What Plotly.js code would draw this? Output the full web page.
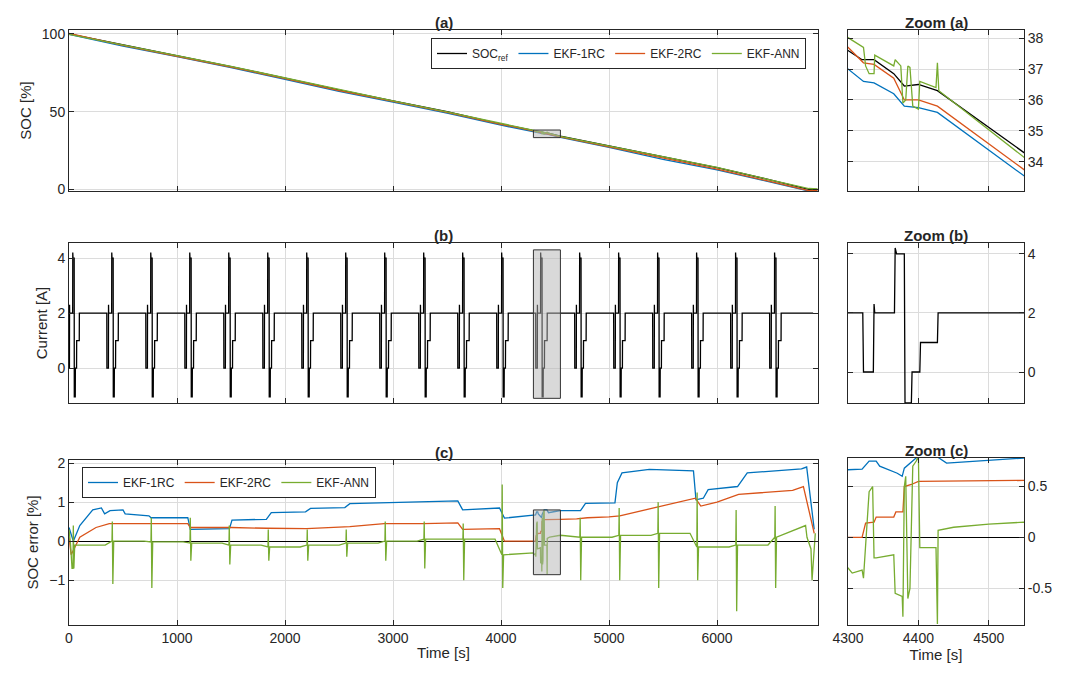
<!DOCTYPE html>
<html><head><meta charset="utf-8">
<script src="https://cdn.plot.ly/plotly-3.0.1.min.js"></script>
<style>body{margin:0}#g{width:1067px;height:677px}</style>
</head><body><div id="g"></div>
<script>
// ---- data ----
const socT    = [0,500,1000,1500,2000,2500,3000,3500,4000,4300,4550,5000,5500,6000,6500,6850,6930];
const socRef  = [100,93,86,79,71.5,64,57,50,42,37.6,34.3,28,21,14,6,0,0];
const soc1RC  = [99.7,92.2,85.4,78.4,70.8,63.1,56.1,49.1,41.3,37.0,33.55,27.1,19.4,12.6,4.6,-1,-1];
const soc2RC  = [100.3,92.6,85.6,78.7,71.2,63.6,56.6,49.6,41.9,37.7,33.75,27.4,20.2,13.0,5.0,-0.8,-0.8];
const socANN  = [99.7,93,86,79.1,71.7,64,57,49.9,42.3,38.0,34.15,27.9,20.9,14.2,6.0,0.6,0.3];

const zT_ref  = [4300,4320,4337,4365,4380,4400,4427,4550];
const zV_ref  = [37.6,37.3,37.3,36.85,36.45,36.5,36.3,34.3];
const zT_1rc  = [4300,4322,4337,4365,4380,4400,4427,4550];
const zV_1rc  = [37.0,36.6,36.55,36.2,35.8,35.75,35.6,33.55];
const zT_2rc  = [4300,4322,4337,4365,4380,4400,4427,4550];
const zV_2rc  = [37.7,37.2,37.15,36.7,36.0,36.0,35.8,33.75];
const zT_ann  = [4300,4322,4325,4330,4337,4338,4365,4367,4375,4378,4382,4385,4388,4392,4400,4402,4425,4427,4429,4550];
const zV_ann  = [38.0,37.7,37.1,36.85,36.85,37.45,37.1,37.3,37.1,35.9,36.0,37.1,37.05,35.8,35.7,36.6,36.4,37.2,36.3,34.15];

const cycleT  = [35,396,757,1118,1479,1840,2201,2562,2923,3284,3645,4006,4367,4728,5089,5450,5811,6172,6533];
const curOff  = [-46,-45,-31,-30,-29,-1,0,2,13,14,23,24,35,36,60,61];
const curVal  = [2,0,0,2.3,2,2,4.2,4,4,-1.05,-1.05,0,0,1,1,2];

const e1T = [0,40,100,220,300,330,380,500,520,740,760,1100,1123,1486,1509,1827,1873,2190,2236,2554,2600,2873,2918,3236,3282,3600,3645,3986,4032,4300,4550,4736,4782,5055,5077,5120,5373,5782,5805,5873,5918,6190,6280,6782,6830,6900];
const e1V = [0.35,0.0,0.4,0.8,0.85,0.7,0.78,0.8,0.7,0.65,0.6,0.6,0.3,0.32,0.54,0.56,0.73,0.75,0.84,0.86,0.96,0.98,0.97,1.0,1.0,1.03,0.8,0.85,0.59,0.65,0.78,0.78,0.97,0.98,1.5,1.75,1.84,1.8,1.06,1.1,1.32,1.4,1.75,1.85,1.9,0.3];
const e2T = [0,20,100,250,373,1100,1123,1500,1830,2200,2600,2918,3282,3600,3645,3986,4032,4300,4550,4700,4800,5000,5100,5400,5800,5850,6000,6200,6700,6800,6900];
const e2V = [0.1,-0.35,0.1,0.35,0.45,0.45,0.35,0.35,0.33,0.32,0.37,0.45,0.45,0.47,0.3,0.32,0.0,0.0,0.56,0.57,0.6,0.62,0.65,0.85,1.1,0.9,1.0,1.2,1.3,1.4,0.2];
const zT_e1 = [4300,4320,4330,4340,4345,4370,4377,4380,4400,4425,4440,4500,4550];
const zV_e1 = [0.67,0.67,0.75,0.75,0.7,0.63,0.6,0.68,0.8,0.8,0.73,0.76,0.78];
const zT_e2 = [4300,4320,4325,4337,4340,4365,4368,4378,4380,4390,4400,4550];
const zV_e2 = [0,0,0.14,0.15,0.2,0.2,0.25,0.25,0.5,0.52,0.55,0.56];
const zT_e3 = [4300,4320,4322,4330,4335,4337,4340,4365,4367,4377,4378,4380,4382,4385,4388,4392,4397,4400,4402,4425,4427,4428,4450,4500,4550];
const zV_e3 = [-0.3,-0.32,-0.4,0.45,0.5,-0.2,-0.2,-0.17,-0.55,-0.58,-0.78,0.5,0.6,-0.6,-0.5,0.7,0.75,0.8,-0.1,-0.1,-0.85,0.07,0.1,0.13,0.15];
const annStartT = [0,15,28];
const annStartV = [0.3,-0.1,-0.7];
const annBase = [-0.1,0.0,-0.02,-0.05,-0.1,-0.15,-0.1,-0.05,0.0,0.05,0.05,-0.35,0.1,0.1,0.15,0.2,-0.15,-0.1,0.1];
const annUp   = [0.4,0.5,0.6,0.6,0.4,0.3,0.3,0.3,0.5,0.5,0.45,1.45,0.8,0.6,0.85,1.0,1.25,0.8,0.9];
const annDown = [-0.7,-1.1,-1.2,-0.5,-0.6,-0.5,-0.5,-0.4,-0.5,-0.7,-1.0,-1.2,-0.85,-1.0,-1.0,-1.2,-1.0,-1.8,-1.2];
const annEndT = [6820,6870,6880,6910];
const annEndV = [0.4,-0.2,-1.0,0.2];

// ---- build ----
function sortPairs(t,v){const idx=t.map((_,i)=>i).sort((a,b)=>t[a]-t[b]);return [idx.map(i=>t[i]),idx.map(i=>v[i])];}
function merge(T,V,zT,zV){const t=[],v=[];T.forEach((x,i)=>{if(x<4300||x>4550){t.push(x);v.push(V[i]);}});
  zT.forEach((x,i)=>{t.push(x);v.push(zV[i]);});return sortPairs(t,v);}
const cT=[0],cV=[2];
cycleT.forEach(t0=>curOff.forEach((o,j)=>{if(t0+o>=0){cT.push(t0+o);cV.push(curVal[j]);}}));
cT.push(6890);cV.push(2);
let gT=annStartT.slice(),gV=annStartV.slice();
cycleT.forEach((t0,i)=>{if(t0===4367){zT_e3.forEach((x,j)=>{gT.push(x);gV.push(zV_e3[j]);});return;}
  gT.push(t0+2,t0+5,t0+10,t0+18,t0+300);gV.push(i===0?-0.7:annBase[i],annUp[i],annDown[i],annBase[i],annBase[i]);});
annEndT.forEach((x,j)=>{gT.push(x);gV.push(annEndV[j]);});
[gT,gV]=sortPairs(gT,gV);

const BL='#0072BD',RD='#D95319',GR='#77AC30';
const [a0t,a0v]=merge(socT,socRef,zT_ref,zV_ref),[a1t,a1v]=merge(socT,soc1RC,zT_1rc,zV_1rc),
      [a2t,a2v]=merge(socT,soc2RC,zT_2rc,zV_2rc),[a3t,a3v]=merge(socT,socANN,zT_ann,zV_ann);
const [c1t,c1v]=merge(e1T,e1V,zT_e1,zV_e1),[c2t,c2v]=merge(e2T,e2V,zT_e2,zV_e2);
const L=(c)=>({color:c,width:1.3});
const tr=[];
function add(x,y,c,xa,ya,name,leg){tr.push({x,y,mode:'lines',line:L(c),xaxis:xa,yaxis:ya,name:name||'',showlegend:!!leg,legend:leg||'legend',hoverinfo:'skip'});}
add(a0t,a0v,'#000','x','y','SOC<sub>ref</sub>','legend');add(a1t,a1v,BL,'x','y','EKF-1RC','legend');
add(a2t,a2v,RD,'x','y','EKF-2RC','legend');add(a3t,a3v,GR,'x','y','EKF-ANN','legend');
add(a0t,a0v,'#000','x2','y2');add(a1t,a1v,BL,'x2','y2');add(a2t,a2v,RD,'x2','y2');add(a3t,a3v,GR,'x2','y2');
add(cT,cV,'#000','x3','y3');add(cT,cV,'#000','x4','y4');
add(c1t,c1v,BL,'x5','y5','EKF-1RC','legend2');add(c2t,c2v,RD,'x5','y5','EKF-2RC','legend2');add(gT,gV,GR,'x5','y5','EKF-ANN','legend2');
add(c1t,c1v,BL,'x6','y6');add(c2t,c2v,RD,'x6','y6');add(gT,gV,GR,'x6','y6');

const H=677,W=1067;
const dm=[69/W,818/W],dz=[848/W,1024/W];
const ra=[1-191/H,1-30/H],rb=[1-403/H,1-243/H],rc=[1-625/H,1-460/H],rcz=[1-625/H,1-458/H];
const ax=(o)=>Object.assign({showline:true,mirror:'ticks',linecolor:'#262626',linewidth:1,ticks:'inside',ticklen:5,tickcolor:'#262626',
  gridcolor:'#dcdcdc',zeroline:false,tickfont:{size:14,color:'#262626'}},o);
const mx=(a,lab,anch)=>ax({domain:dm,range:[0,6935],tickvals:[0,1000,2000,3000,4000,5000,6000],showticklabels:lab,anchor:anch,
  title:lab?{text:'Time [s]',font:{size:15},standoff:2}:undefined});
const zx=(a,lab,anch)=>ax({domain:dz,range:[4300,4550],tickvals:[4300,4400,4500],showticklabels:lab,anchor:anch,
  title:lab?{text:'Time [s]',font:{size:15},standoff:2}:undefined});
const layout={width:W,height:H,margin:{l:0,r:0,t:0,b:0},paper_bgcolor:'#fff',plot_bgcolor:'#fff',
  font:{family:'Liberation Sans, Arial, sans-serif',color:'#262626'},
  xaxis:mx(0,false,'y'),yaxis:ax({domain:ra,range:[-1,102.5],tickvals:[0,50,100],anchor:'x',title:{text:'SOC [%]',font:{size:15},standoff:6}}),
  xaxis2:zx(0,false,'y2'),yaxis2:ax({domain:ra,range:[33.06,38.26],tickvals:[34,35,36,37,38],side:'right',anchor:'x2'}),
  xaxis3:mx(0,false,'y3'),yaxis3:ax({domain:rb,range:[-1.27,4.55],tickvals:[0,2,4],anchor:'x3',title:{text:'Current [A]',font:{size:15},standoff:6}}),
  xaxis4:zx(0,false,'y4'),yaxis4:ax({domain:rb,range:[-1.05,4.37],tickvals:[0,2,4],side:'right',anchor:'x4'}),
  xaxis5:mx(0,true,'y5'),yaxis5:ax({domain:rc,range:[-2.15,2.08],tickvals:[-1,0,1,2],anchor:'x5',zeroline:true,zerolinecolor:'#000',zerolinewidth:1.2,title:{text:'SOC error [%]',font:{size:15},standoff:6}}),
  xaxis6:zx(0,true,'y6'),yaxis6:ax({domain:rcz,range:[-0.86,0.78],tickvals:[-0.5,0,0.5],ticktext:['-0.5','0','0.5'],side:'right',anchor:'x6',zeroline:true,zerolinecolor:'#000',zerolinewidth:1.2}),
  legend:{orientation:'h',x:806/W,xanchor:'right',y:1-38/H,yanchor:'top',bordercolor:'#262626',borderwidth:1,bgcolor:'#fff',font:{size:12}},
  legend2:{orientation:'h',x:82/W,xanchor:'left',y:1-467/H,yanchor:'top',bordercolor:'#262626',borderwidth:1,bgcolor:'#fff',font:{size:12}},
  shapes:[
    {type:'rect',xref:'x',yref:'y',x0:4300,x1:4550,y0:33.3,y1:38.2,fillcolor:'rgba(180,180,180,0.5)',line:{color:'#333',width:1}},
    {type:'rect',xref:'x3',yref:'y3',x0:4300,x1:4550,y0:-1.1,y1:4.3,fillcolor:'rgba(180,180,180,0.5)',line:{color:'#333',width:1}},
    {type:'rect',xref:'x5',yref:'y5',x0:4300,x1:4550,y0:-0.86,y1:0.8,fillcolor:'rgba(180,180,180,0.5)',line:{color:'#333',width:1}}],
  annotations:[['(a)',dm,ra],['Zoom (a)',dz,ra],['(b)',dm,rb],['Zoom (b)',dz,rb],['(c)',dm,rc],['Zoom (c)',dz,rcz]].map(([t,d,r])=>({
    text:'<b>'+t+'</b>',xref:'paper',yref:'paper',x:(d[0]+d[1])/2,y:r[1],yanchor:'bottom',xanchor:'center',showarrow:false,font:{size:15,color:'#262626'},yshift:-3}))
};
Plotly.newPlot('g',tr,layout,{staticPlot:true});
</script></body></html>
